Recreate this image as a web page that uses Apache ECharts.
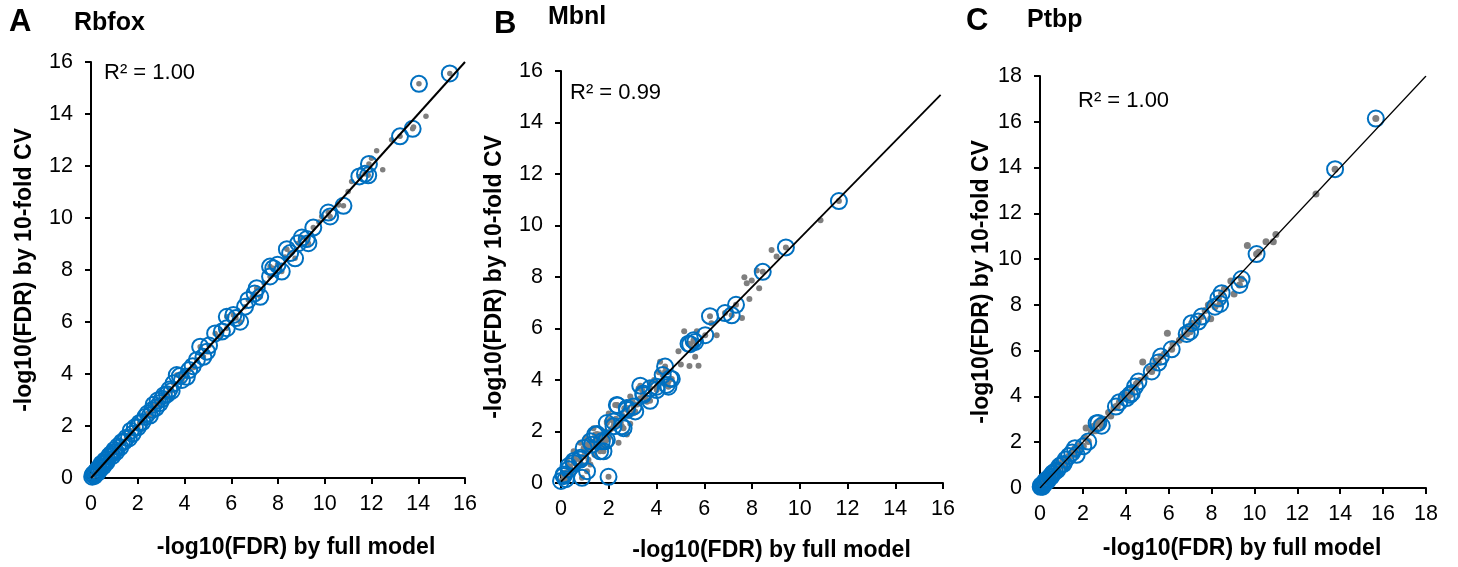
<!DOCTYPE html>
<html>
<head>
<meta charset="utf-8">
<script src="https://cdn.jsdelivr.net/npm/echarts@6/dist/echarts.min.js"></script>
<style>html,body{margin:0;padding:0;background:#fff}#c{width:1458px;height:567px}</style>
</head>
<body>
<div id="c"></div>
<script>
// ---------- Data ----------
var panelLetters = ['A', 'B', 'C'];
var panelNames = ['Rbfox', 'Mbnl', 'Ptbp'];
var r2Labels = ['R\u00b2 = 1.00', 'R\u00b2 = 0.99', 'R\u00b2 = 1.00'];
var xAxisName = '-log10(FDR) by full model';
var yAxisName = '-log10(FDR) by 10-fold CV';
var axisMax = [16, 16, 18];

// Panel A (Rbfox): points marked with a blue circle (and grey dot), and grey dots only
var aCircled = [[0.05,0.05],[0.08,0.12],[0.1,0.15],[0.15,0.08],[0.18,0.18],[0.2,0.25],[0.28,0.2],[0.32,0.38],[0.36,0.3],[0.4,0.42],[0.45,0.55],[0.52,0.45],[0.56,0.58],[0.6,0.68],[0.66,0.6],[0.7,0.72],[0.78,0.85],[0.85,0.92],[0.92,0.85],[0.96,0.98],[1.0,1.08],[1.08,1.0],[1.15,1.22],[1.25,1.18],[1.32,1.38],[1.42,1.4],[1.52,1.55],[1.62,1.52],[1.7,1.82],[1.78,1.7],[1.88,1.95],[2.0,1.95],[2.08,2.12],[2.2,2.15],[2.32,2.35],[2.42,2.48],[2.52,2.4],[2.62,2.62],[2.68,2.82],[2.78,2.7],[2.85,2.98],[2.95,2.88],[3.05,3.05],[3.12,3.18],[3.25,3.22],[3.35,3.4],[3.45,3.35],[3.53,3.64],[3.67,3.96],[3.89,3.77],[4.1,3.89],[3.8,3.92],[4.2,4.15],[4.35,4.3],[4.53,4.54],[4.67,5.05],[4.81,4.66],[4.96,4.86],[5.05,5.1],[5.31,5.56],[5.6,5.63],[5.81,5.76],[5.81,6.2],[6.09,6.27],[6.38,6.01],[6.2,6.15],[6.59,6.59],[6.73,6.85],[7.09,7.3],[7.24,6.97],[7.0,7.1],[7.66,7.75],[7.66,8.13],[7.8,8.07],[7.98,8.2],[8.16,7.94],[8.38,8.8],[8.52,8.65],[8.73,8.45],[8.87,9.03],[9.02,9.25],[9.23,9.19],[9.3,9.03],[9.51,9.63],[10.15,10.21],[10.23,10.06],[10.8,10.47],[11.48,11.6],[11.72,11.7],[11.86,11.64],[11.89,12.08],[13.22,13.14],[13.76,13.43],[14.03,15.16],[15.35,15.56]];
var aDotsOnly = [[0.8,0.75],[1.6,1.65],[2.5,2.55],[3.3,3.1],[4.4,4.25],[5.5,5.45],[6.9,6.95],[7.4,7.5],[8.3,8.5],[9.75,9.85],[9.87,10.06],[10.6,10.5],[11.0,11.02],[11.15,11.4],[12.0,12.3],[12.22,12.59],[12.48,11.86],[12.86,13.01],[13.8,13.5],[14.33,13.91]];
var aTrend = [[0,0],[16,16]];

// Panel B (Mbnl)
var bCircled = [[0.0,0.08],[0.11,0.33],[0.11,0.27],[0.2,0.15],[0.32,0.66],[0.32,0.53],[0.53,0.78],[0.53,0.85],[0.81,0.91],[0.81,0.98],[0.88,0.2],[1.09,0.46],[0.95,1.36],[1.23,1.62],[1.3,1.49],[1.43,1.88],[1.51,1.9],[1.64,1.23],[1.71,1.62],[1.78,1.23],[1.85,1.62],[1.92,1.68],[1.92,2.33],[1.99,0.24],[2.2,2.2],[2.2,2.39],[2.55,2.2],[2.62,2.13],[2.34,3.03],[2.37,3.01],[2.76,2.84],[2.76,2.91],[3.04,2.97],[3.11,2.78],[3.32,3.78],[3.45,3.48],[3.45,3.42],[3.73,3.68],[3.73,3.19],[4.01,3.74],[4.01,3.61],[4.26,4.19],[4.36,4.52],[4.43,3.81],[4.5,3.74],[4.57,4.06],[4.64,4.04],[5.34,5.41],[5.41,5.39],[5.55,5.54],[5.62,5.48],[6.04,5.74],[6.24,6.48],[6.87,6.6],[7.15,6.51],[7.33,6.92],[8.45,8.2],[9.42,9.15],[11.64,10.95]];
var bDotsOnly = [[0.1,0.05],[0.15,0.4],[0.2,0.33],[0.25,0.85],[0.3,0.2],[0.39,0.59],[0.45,0.35],[0.53,1.23],[0.55,1.0],[0.6,0.9],[0.67,0.53],[0.7,0.65],[0.81,1.56],[0.9,0.7],[0.95,1.04],[1.0,1.2],[1.05,1.75],[1.09,1.49],[1.15,0.9],[1.2,1.35],[1.23,0.72],[1.36,2.13],[1.4,1.1],[1.45,1.65],[1.51,1.36],[1.6,1.7],[1.64,1.88],[1.7,1.4],[1.78,1.49],[1.85,2.0],[1.92,2.39],[2.0,1.75],[2.0,2.7],[2.06,2.46],[2.1,2.1],[2.27,3.03],[2.3,2.5],[2.41,2.26],[2.41,1.56],[2.5,2.35],[2.55,2.65],[2.65,2.9],[2.76,1.88],[2.85,2.6],[2.9,3.36],[2.9,2.3],[3.0,3.15],[3.04,2.71],[3.2,3.05],[3.25,3.68],[3.32,3.29],[3.4,3.6],[3.55,3.3],[3.6,3.16],[3.73,3.87],[3.9,4.0],[4.1,4.3],[4.15,4.71],[4.25,3.9],[4.36,4.32],[4.5,3.94],[4.92,5.12],[5.02,4.6],[5.16,5.89],[5.38,4.54],[5.62,4.9],[5.69,5.89],[5.76,4.55],[6.3,6.2],[6.52,5.74],[7.58,6.41],[7.68,7.99],[7.78,7.76],[7.89,7.15],[7.99,7.86],[8.2,8.25],[8.3,7.56],[8.82,9.05],[9.03,8.8],[10.87,10.2]];
var bTrend = [[0,0.05],[15.9,15.07]];

// Panel C (Ptbp)
var cCircled = [[0.03,0.05],[0.05,0.12],[0.08,0.1],[0.12,0.06],[0.15,0.15],[0.18,0.2],[0.22,0.28],[0.25,0.22],[0.3,0.35],[0.34,0.3],[0.38,0.4],[0.45,0.48],[0.52,0.5],[0.56,0.6],[0.6,0.65],[0.7,0.72],[0.8,0.78],[0.9,0.95],[1.0,1.02],[1.1,1.05],[1.2,1.25],[1.35,1.4],[1.5,1.55],[1.63,1.74],[1.71,1.45],[2.02,1.82],[2.25,2.03],[2.64,2.83],[2.72,2.84],[2.88,2.72],[3.54,3.56],[3.7,3.75],[4.04,3.93],[4.2,4.07],[4.28,4.14],[4.43,4.43],[4.59,4.65],[5.21,5.09],[5.52,5.48],[5.64,5.74],[6.14,6.06],[6.84,6.73],[7.0,6.83],[7.07,7.2],[7.38,7.27],[7.54,7.49],[8.16,7.92],[8.32,8.29],[8.4,8.04],[8.47,8.51],[9.3,8.87],[9.4,9.13],[10.1,10.22],[13.76,13.93],[15.66,16.14]];
var cDotsOnly = [[0.1,0.2],[0.2,0.1],[0.35,0.3],[0.5,0.6],[0.65,0.55],[0.75,0.9],[0.85,0.8],[1.05,1.15],[1.15,0.95],[1.3,1.25],[1.45,1.4],[1.6,1.65],[1.8,1.85],[1.9,1.7],[2.1,2.2],[2.15,2.62],[2.4,2.45],[2.5,2.7],[2.6,2.5],[2.8,2.95],[3.0,3.0],[3.2,3.3],[3.3,3.15],[3.45,3.5],[3.6,3.55],[3.8,3.9],[3.95,4.1],[4.1,3.95],[4.3,4.35],[4.5,4.55],[4.65,4.7],[4.79,5.5],[4.9,4.85],[5.1,5.2],[5.3,5.25],[5.4,5.55],[5.8,5.85],[5.94,6.76],[6.2,6.3],[6.5,6.45],[6.6,6.6],[6.9,6.95],[7.2,7.1],[7.7,7.75],[7.85,8.0],[7.96,7.39],[8.6,8.7],[8.9,9.04],[9.05,8.48],[9.67,10.59],[10.2,10.3],[10.54,10.76],[10.88,10.76],[11.0,11.08],[12.87,12.84]];
var cTrend = [[0,0],[18,18]];

// ---------- Layout / style ----------
var FONT = '"Liberation Sans", Arial, sans-serif';
var GREY = '#7f7f7f', BLUE = '#0070c0';
var grids = [
  {left: 91, top: 62, width: 374, height: 416},
  {left: 561, top: 71, width: 382, height: 414},
  {left: 1040, top: 76, width: 386, height: 412}
];
var xNameGap = [58, 56, 49];
var xNamePad = [36, 39, 18];
var yNameGap = [55, 55, 47];
var lineWidths = [2, 1.8, 1.2];
var dotSizes = [5.5, 6, 7];
var letterPos = [[9, 7], [494, 9], [966, 6]];
var namePos = [[74, 11], [548, 5], [1027, 8]];
var r2Pos = [[104, 62], [570, 82], [1078, 90]];
var circled = [aCircled, bCircled, cCircled];
var dotsOnly = [aDotsOnly, bDotsOnly, cDotsOnly];
var trends = [aTrend, bTrend, cTrend];

var titles = [], xAxes = [], yAxes = [], series = [];
for (var i = 0; i < 3; i++) {
  titles.push({text: panelLetters[i], left: letterPos[i][0], top: letterPos[i][1], padding: 0,
    textStyle: {fontFamily: FONT, fontSize: 31, fontWeight: 'bold', color: '#000'}});
  titles.push({text: panelNames[i], left: namePos[i][0], top: namePos[i][1], padding: 0,
    textStyle: {fontFamily: FONT, fontSize: 25, fontWeight: 'bold', color: '#000'}});
  titles.push({text: r2Labels[i], left: r2Pos[i][0], top: r2Pos[i][1], padding: 0,
    textStyle: {fontFamily: FONT, fontSize: 22, fontWeight: 'normal', color: '#000'}});
  var axCommon = {
    type: 'value', gridIndex: i, min: 0, max: axisMax[i], interval: 2,
    nameLocation: 'middle',
    axisLine: {show: true, onZero: false, lineStyle: {color: '#000', width: 2}},
    axisTick: {show: true, inside: false, length: 6, lineStyle: {color: '#000', width: 2}},
    splitLine: {show: false}
  };
  xAxes.push(Object.assign({}, axCommon, {
    name: xAxisName, nameGap: xNameGap[i],
    nameTextStyle: {fontFamily: FONT, fontSize: 23, fontWeight: 'bold', color: '#000', padding: [0, 0, 0, xNamePad[i]]},
    axisLabel: {fontFamily: FONT, fontSize: 21.5, color: '#000', margin: 15}
  }));
  yAxes.push(Object.assign({}, axCommon, {
    name: yAxisName, nameGap: yNameGap[i],
    nameTextStyle: {fontFamily: FONT, fontSize: 23, fontWeight: 'bold', color: '#000'},
    axisLabel: {fontFamily: FONT, fontSize: 21.5, color: '#000', margin: 18}
  }));
  series.push({
    type: 'scatter', xAxisIndex: i, yAxisIndex: i, z: 2,
    data: circled[i].concat(dotsOnly[i]),
    symbol: 'circle', symbolSize: dotSizes[i],
    itemStyle: {color: GREY, opacity: 1},
    emphasis: {disabled: true}
  });
  series.push({
    type: 'scatter', xAxisIndex: i, yAxisIndex: i, z: 3,
    data: circled[i],
    symbol: 'circle', symbolSize: 16,
    itemStyle: {color: 'rgba(0,0,0,0)', borderColor: BLUE, borderWidth: 2, opacity: 1},
    emphasis: {disabled: true}
  });
  series.push({
    type: 'line', xAxisIndex: i, yAxisIndex: i, z: 4,
    data: trends[i], symbol: 'none', silent: true,
    lineStyle: {color: '#000', width: lineWidths[i]}
  });
}

var chart = echarts.init(document.getElementById('c'), null, {renderer: 'canvas'});
chart.setOption({
  animation: false,
  backgroundColor: '#fff',
  title: titles,
  grid: grids,
  xAxis: xAxes,
  yAxis: yAxes,
  series: series
});
</script>
</body>
</html>
